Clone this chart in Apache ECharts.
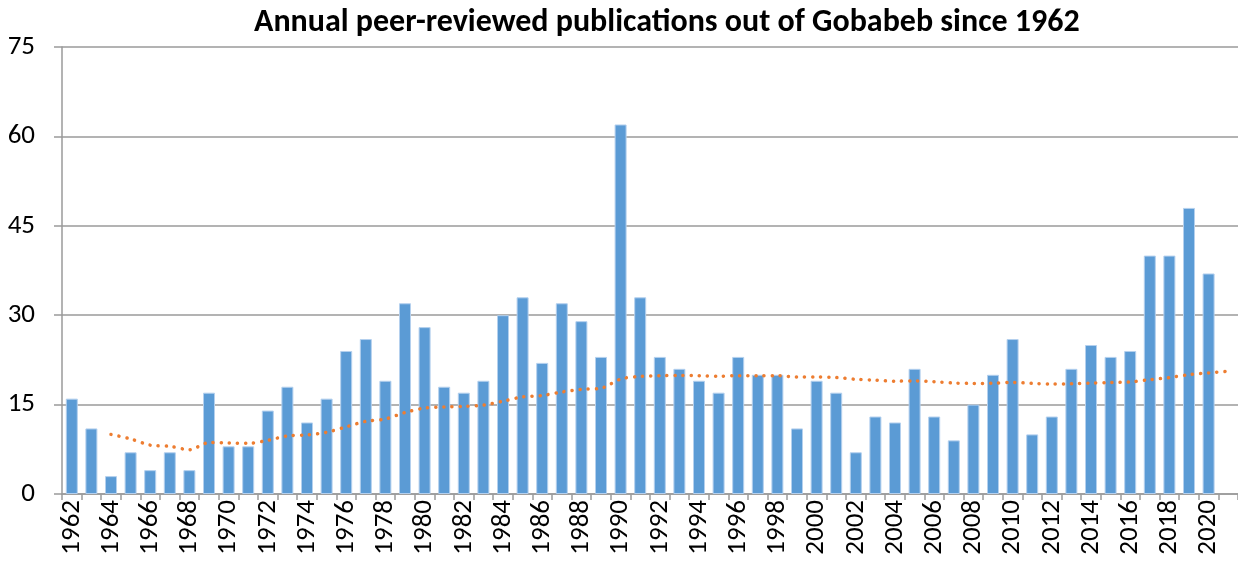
<!DOCTYPE html>
<html><head><meta charset="utf-8">
<script src="https://cdn.jsdelivr.net/npm/echarts@6/dist/echarts.min.js"></script>
<style>html,body{margin:0;padding:0;background:#fff}#c{width:1238px;height:564px}</style>
</head><body><div id="c"></div>
<script>
var years = ['1962','1963','1964','1965','1966','1967','1968','1969','1970','1971','1972','1973','1974','1975','1976','1977','1978','1979','1980','1981','1982','1983','1984','1985','1986','1987','1988','1989','1990','1991','1992','1993','1994','1995','1996','1997','1998','1999','2000','2001','2002','2003','2004','2005','2006','2007','2008','2009','2010','2011','2012','2013','2014','2015','2016','2017','2018','2019','2020',''];
var publications = [16,11,3,7,4,7,4,17,8,8,14,18,12,16,24,26,19,32,28,18,17,19,30,33,22,32,29,23,62,33,23,21,19,17,23,20,20,11,19,17,7,13,12,21,13,9,15,20,26,10,13,21,25,23,24,40,40,48,37,null];
var trend = [null,null,10.0,9.25,8.2,8.0,7.43,8.63,8.56,8.5,9.0,9.75,9.92,10.36,11.27,12.19,12.59,13.67,14.42,14.6,14.71,14.91,15.57,16.29,16.52,17.12,17.56,17.75,19.28,19.73,19.84,19.88,19.85,19.76,19.86,19.86,19.86,19.63,19.62,19.55,19.24,19.1,18.93,18.98,18.84,18.63,18.55,18.58,18.73,18.56,18.45,18.5,18.62,18.7,18.8,19.18,19.54,20.04,20.32,20.6];
var yTicks = [0,15,30,45,60,75];
var titleText = 'Annual peer-reviewed publications out of Gobabeb since 1962';

var font = 'Carlito, Lato, "Open Sans", sans-serif';
var chart = echarts.init(document.getElementById('c'));
chart.setOption({
  animation: false,
  backgroundColor: '#fff',
  title: {
    text: titleText, left: 222, top: 5,
    backgroundColor: '#fff', padding: [2, 10, 2, 32],
    textStyle: {fontFamily: font, fontWeight: 'bold', fontSize: 32, color: '#000'}
  },
  grid: {left: 62, right: 0, top: 47, bottom: 70, containLabel: false},
  xAxis: {
    type: 'category', data: years, boundaryGap: true,
    axisLine: {lineStyle: {color: '#9a9a9a', width: 1.5}},
    axisTick: {show: true, interval: 0, length: 6, lineStyle: {color: '#9a9a9a', width: 1.5}},
    axisLabel: {interval: 1, rotate: 90, fontFamily: font, fontSize: 27, color: '#000', margin: 6}
  },
  yAxis: {
    type: 'value', min: yTicks[0], max: yTicks[yTicks.length-1], interval: 15,
    axisLine: {show: true, lineStyle: {color: '#9a9a9a', width: 1.5}},
    axisTick: {show: true, length: 8, lineStyle: {color: '#9a9a9a', width: 1.5}},
    splitLine: {lineStyle: {color: '#9a9a9a', width: 1.5}},
    axisLabel: {fontFamily: font, fontSize: 27, color: '#000', margin: 27}
  },
  series: [
    {type: 'bar', data: publications, barWidth: 12,
     itemStyle: {color: '#5B9BD5', borderColor: '#b4d0ee', borderWidth: 1}, z: 2},
    {type: 'line', data: trend, symbol: 'none', smooth: 0.3, z: 3,
     lineStyle: {color: '#ED7D31', width: 3.5, type: [0.1, 8], cap: 'round'}}
  ]
});
</script></body></html>
